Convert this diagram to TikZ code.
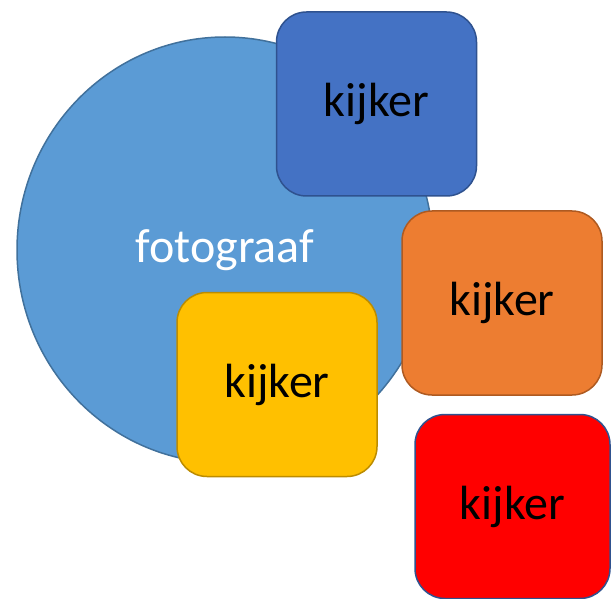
\documentclass[tikz,border=0pt]{standalone}
\usepackage{fontspec}
\setmainfont{Carlito}
\usepackage{tikz}
\usetikzlibrary{shapes.geometric}
\definecolor{fotofill}{HTML}{5B9BD5}
\definecolor{fotoline}{HTML}{41719C}
\definecolor{bluefill}{HTML}{4472C4}
\definecolor{blueline}{HTML}{2F528F}
\definecolor{orangefill}{HTML}{ED7D31}
\definecolor{orangeline}{HTML}{AE5A21}
\definecolor{yellowfill}{HTML}{FFC000}
\definecolor{yellowline}{HTML}{BC8C00}
\tikzset{
  kijkerbox/.style={draw, rounded corners=30pt, line width=1.5pt, minimum width=200pt, minimum height=184pt, inner sep=0pt, font=\fontsize{48}{57}\selectfont, text=black},
}

\begin{document}
\begin{tikzpicture}[x=1pt, y=-1pt]
\useasboundingbox (0, 0) rectangle (611, 599);
\node[draw=fotoline, fill=fotofill, ellipse, line width=1.5pt, minimum width=416pt, minimum height=426pt, inner sep=0pt, text=white, font=\fontsize{48}{57}\selectfont] (foto) at (225, 250) {fotograaf};
\node[kijkerbox, draw=blueline, fill=bluefill] (K1) at (376.5, 104) {kijker};
\node[kijkerbox, draw=orangeline, fill=orangefill] (K2) at (502, 303) {kijker};
\node[kijkerbox, draw=yellowline, fill=yellowfill] (K3) at (277, 384.5) {kijker};
\node[kijkerbox, draw=blueline, fill=red, minimum width=195pt] (K4) at (512.5, 506.5) {kijker};
\end{tikzpicture}
\end{document}
